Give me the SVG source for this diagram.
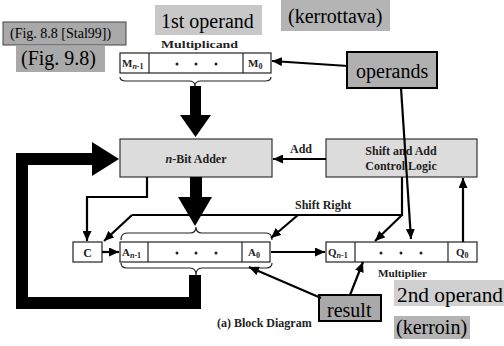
<svg xmlns="http://www.w3.org/2000/svg" width="504" height="346" viewBox="0 0 504 346">
  <defs>
    <marker id="arrow" markerUnits="userSpaceOnUse" markerWidth="10" markerHeight="9" refX="10" refY="4.5" orient="auto">
      <path d="M0,0 L10,4.5 L0,9 z" fill="#000"/>
    </marker>
    <style>
      .note { font-family: "Liberation Serif", "Times New Roman", serif; font-size: 20px; fill: #000; }
      .lbl { font-family: "Liberation Serif", "Times New Roman", serif; font-weight: bold; font-size: 12px; fill: #222; }
      .reg { font-family: "Liberation Serif", "Times New Roman", serif; font-weight: bold; font-size: 11px; fill: #222; }
      .sub { font-size: 8px; }
      .box { fill: #dcdcdc; stroke: #333; stroke-width: 1.2; }
      .cell { fill: #fff; stroke: #222; stroke-width: 1.2; }
      .wire { fill: none; stroke: #000; stroke-width: 2.2; }
      .arr { fill: none; stroke: #000; stroke-width: 2.2; marker-end: url(#arrow); }
      .brace { fill: none; stroke: #222; stroke-width: 1.2; }
      .fat { fill: none; stroke: #000; stroke-width: 12; }
      .dot { fill: #222; }
    </style>
  </defs>
  <rect width="504" height="346" fill="#fff"/>

  <!-- annotation boxes -->
  <g id="note-fig88">
    <rect x="3" y="22" width="123" height="23" fill="#a9a9a9" stroke="#444" stroke-width="1"/>
    <text class="note" x="10" y="38" style="font-size:14px">(Fig. 8.8 [Stal99])</text>
  </g>
  <g id="note-fig98">
    <rect x="16" y="46" width="89" height="26" fill="#a9a9a9"/>
    <text class="note" x="21" y="65">(Fig. 9.8)</text>
  </g>
  <g id="note-1st">
    <rect x="155" y="5" width="107" height="30" fill="#c8c8c8"/>
    <text class="note" x="161" y="28">1st operand</text>
  </g>
  <g id="note-kerrottava">
    <rect x="281" y="0" width="109" height="31" fill="#b4b4b4"/>
    <text class="note" x="288" y="23">(kerrottava)</text>
  </g>
  <g id="note-2nd">
    <rect x="394" y="280" width="110" height="26" fill="#d0d0d0"/>
    <text class="note" x="397" y="302" textLength="106" lengthAdjust="spacingAndGlyphs">2nd operand</text>
  </g>
  <g id="note-kerroin">
    <rect x="394" y="316" width="76" height="23" fill="#b4b4b4"/>
    <text class="note" x="396" y="334">(kerroin)</text>
  </g>

  <!-- Multiplicand register -->
  <g id="multiplicand">
    <text class="reg" x="161" y="48" textLength="77" lengthAdjust="spacingAndGlyphs">Multiplicand</text>
    <rect class="cell" x="120" y="53" width="151" height="20"/>
    <line class="cell" x1="149" y1="53" x2="149" y2="73"/>
    <line class="cell" x1="243" y1="53" x2="243" y2="73"/>
    <text class="reg" x="122" y="67">M<tspan class="sub" dy="2"><tspan font-style="italic">n</tspan>-1</tspan></text>
    <text class="reg" x="248" y="67">M<tspan class="sub" dy="2">0</tspan></text>
    <circle class="dot" cx="177" cy="64" r="1.5"/>
    <circle class="dot" cx="196" cy="64" r="1.5"/>
    <circle class="dot" cx="216" cy="64" r="1.5"/>
    <path class="brace" d="M120,77 Q120,81 126,81 L189,81 Q195,81 195,86 Q195,81 201,81 L265,81 Q271,81 271,77"/>
  </g>

  <!-- n-Bit Adder -->
  <g id="adder">
    <rect class="box" x="120" y="139" width="152" height="38"/>
    <text class="lbl" x="196" y="163" text-anchor="middle"><tspan font-style="italic">n</tspan>-Bit Adder</text>
  </g>

  <!-- Control logic -->
  <g id="control">
    <rect class="box" x="326" y="139" width="151" height="38"/>
    <text class="lbl" x="401" y="155" text-anchor="middle">Shift and Add</text>
    <text class="lbl" x="401" y="170" text-anchor="middle">Control Logic</text>
  </g>

  <!-- Carry flip-flop -->
  <g id="carry">
    <rect class="cell" x="73" y="242" width="29" height="20"/>
    <text class="lbl" x="87.5" y="257" text-anchor="middle">C</text>
  </g>

  <!-- Accumulator A -->
  <g id="accumulator">
    <rect class="cell" x="120" y="242" width="150" height="20"/>
    <line class="cell" x1="148" y1="242" x2="148" y2="262"/>
    <line class="cell" x1="242" y1="242" x2="242" y2="262"/>
    <text class="reg" x="122" y="256">A<tspan class="sub" dy="2"><tspan font-style="italic">n</tspan>-1</tspan></text>
    <text class="reg" x="248" y="256">A<tspan class="sub" dy="2">0</tspan></text>
    <circle class="dot" cx="177" cy="253" r="1.5"/>
    <circle class="dot" cx="196" cy="253" r="1.5"/>
    <circle class="dot" cx="216" cy="253" r="1.5"/>
    <path class="brace" d="M121,240 Q121,233 127,233 L190,233 Q196,233 196,227 Q196,233 202,233 L266,233 Q272,233 272,240"/>
    <path class="brace" d="M121,263 Q121,268 127,268 L190,268 Q196,268 196,275 Q196,268 202,268 L266,268 Q272,268 272,263"/>
  </g>

  <!-- Multiplier register Q -->
  <g id="multiplier">
    <rect class="cell" x="326" y="242" width="151" height="20"/>
    <line class="cell" x1="355" y1="242" x2="355" y2="262"/>
    <line class="cell" x1="448" y1="242" x2="448" y2="262"/>
    <text class="reg" x="328" y="256">Q<tspan class="sub" dy="2"><tspan font-style="italic">n</tspan>-1</tspan></text>
    <text class="reg" x="456" y="256">Q<tspan class="sub" dy="2">0</tspan></text>
    <circle class="dot" cx="381" cy="253" r="1.5"/>
    <circle class="dot" cx="401" cy="253" r="1.5"/>
    <circle class="dot" cx="421" cy="253" r="1.5"/>
    <text class="reg" x="378" y="277" textLength="49" lengthAdjust="spacingAndGlyphs">Multiplier</text>
  </g>

  <g id="operands">
    <rect x="347" y="52" width="90" height="36" fill="#b0b0b0" stroke="#000" stroke-width="2"/>
    <text class="note" x="356" y="78">operands</text>
  </g>
  <g id="result">
    <rect x="319" y="295" width="62" height="26" fill="#a9a9a9" stroke="#000" stroke-width="2"/>
    <text class="note" x="327" y="317">result</text>
  </g>

  <text id="caption" class="lbl" x="217" y="327">(a) Block Diagram</text>

  <!-- connectors -->
  <g id="connectors">
    <!-- wide data paths -->
    <rect x="190" y="86" width="11" height="30" fill="#000"/>
    <polygon points="180,115 211,115 195.5,137" fill="#000"/>
    <rect x="190" y="177" width="12" height="21" fill="#000"/>
    <polygon points="178,197 212,197 195,226" fill="#000"/>
    <polyline class="fat" points="195,275 195,303 22,303 22,159 93,159"/>
    <polygon points="92,142 119,159 92,176" fill="#000"/>

    <line class="arr" x1="326" y1="159" x2="273" y2="159"/>
    <text class="lbl" x="290" y="153">Add</text>

    <polyline class="wire" points="402,177 402,215 132,215"/>
    <text class="lbl" x="295" y="209">Shift Right</text>
    <line class="arr" x1="132" y1="215" x2="104" y2="241"/>
    <line class="arr" x1="298" y1="215" x2="271" y2="238"/>
    <line class="arr" x1="402" y1="215" x2="375" y2="241"/>

    <polyline class="arr" points="147,177 147,197 87,197 87,241"/>
    <line class="arr" x1="102" y1="252" x2="119" y2="252"/>
    <line class="arr" x1="271" y1="252" x2="325" y2="252"/>
    <line class="arr" x1="463" y1="242" x2="463" y2="178"/>

    <line class="arr" x1="348" y1="66" x2="272" y2="61"/>
    <line class="arr" x1="401" y1="88" x2="411" y2="239"/>
    <line class="arr" x1="321" y1="298" x2="249" y2="267"/>
    <line class="arr" x1="350" y1="295" x2="363" y2="262"/>
  </g>
</svg>
